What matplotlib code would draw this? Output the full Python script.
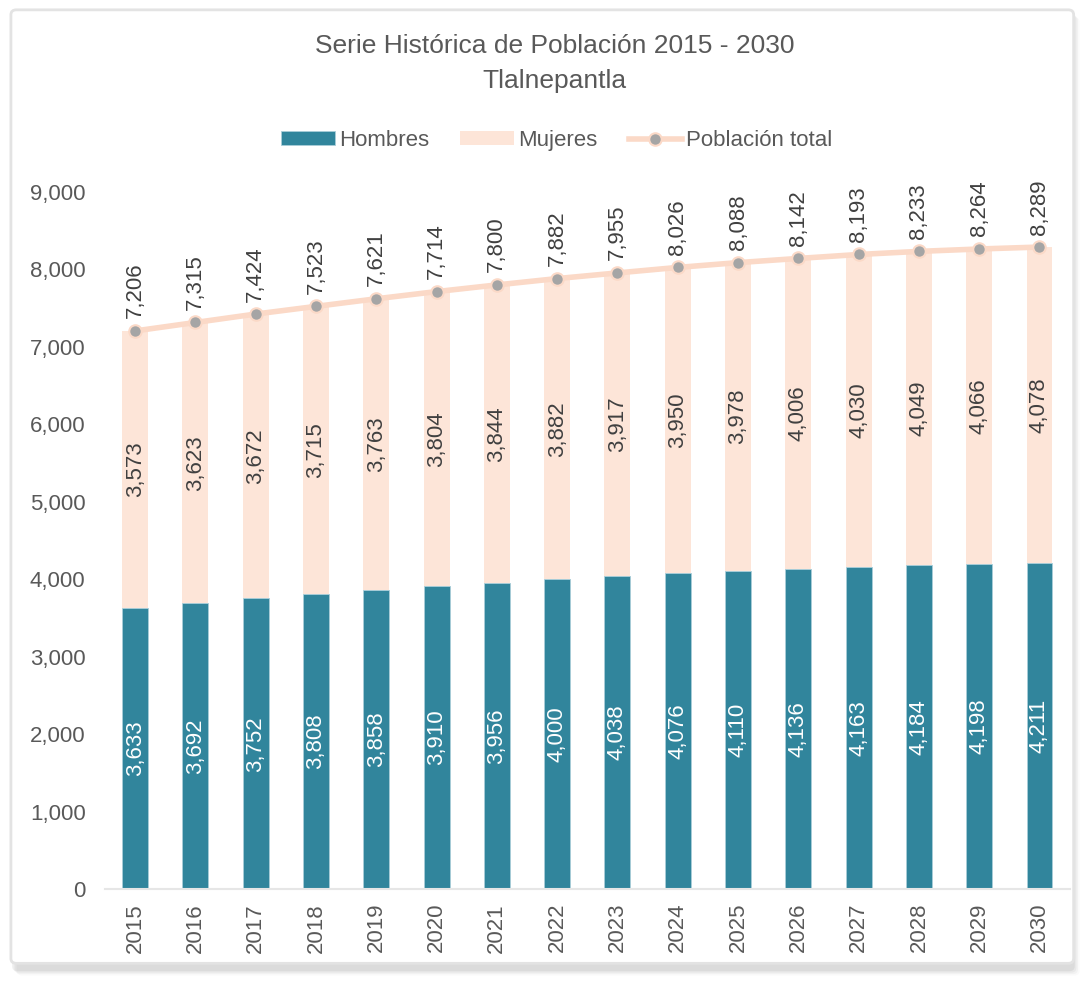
import numpy as np
import matplotlib
matplotlib.use("Agg")
import matplotlib.pyplot as plt
from matplotlib.patches import FancyBboxPatch
from matplotlib.ticker import FuncFormatter

# data
years = [str(y) for y in range(2015, 2031)]
hombres = [3633, 3692, 3752, 3808, 3858, 3910, 3956, 4000,
           4038, 4076, 4110, 4136, 4163, 4184, 4198, 4211]
mujeres = [3573, 3623, 3672, 3715, 3763, 3804, 3844, 3882,
           3917, 3950, 3978, 4006, 4030, 4049, 4066, 4078]
total = [7206, 7315, 7424, 7523, 7621, 7714, 7800, 7882,
         7955, 8026, 8088, 8142, 8193, 8233, 8264, 8289]

c_h = "#31859C"
c_m = "#FDE5D8"
c_line = "#FBD9C7"
c_text = "#595959"
c_lab = "#404040"

plt.rcParams['font.family'] = ['Liberation Sans', 'DejaVu Sans']

fig = plt.figure(figsize=(10.9, 9.83), dpi=100)

# frame with soft shadow
for i, a in enumerate([0.05, 0.04, 0.03, 0.02]):
    fig.patches.append(FancyBboxPatch((0.011 + 0.0015 * i, 0.012 - 0.0015 * i), 0.975, 0.975,
                                      boxstyle="round,pad=0,rounding_size=0.005",
                                      transform=fig.transFigure, facecolor="black",
                                      edgecolor="none", alpha=a, zorder=0))
fig.patches.append(FancyBboxPatch((0.010, 0.020), 0.975, 0.970,
                                  boxstyle="round,pad=0,rounding_size=0.005",
                                  transform=fig.transFigure, facecolor="white",
                                  edgecolor="#E3E3E3", linewidth=2, zorder=1))

ax = fig.add_axes([0.0963, 0.0956, 0.885, 0.7091])
ax.set_zorder(2)
ax.patch.set_alpha(0)

x = np.arange(len(years))
w = 0.43
bh = ax.bar(x, hombres, w, color=c_h, edgecolor="#A9CDD8", linewidth=0.6, label="Hombres")
bm = ax.bar(x, mujeres, w, bottom=hombres, color=c_m, edgecolor="none", label="Mujeres")
ln, = ax.plot(x, total, color=c_line, linewidth=4, marker="o", markersize=9,
              markerfacecolor="#A5A5A5", markeredgecolor=c_line, markeredgewidth=1.5,
              label="Población total", zorder=3)

for i in range(len(years)):
    ax.text(x[i], hombres[i] / 2, f"{hombres[i]:,}", rotation=90, ha="center",
            va="center", color="white", fontsize=16)
    ax.text(x[i], hombres[i] + mujeres[i] / 2, f"{mujeres[i]:,}", rotation=90,
            ha="center", va="center", color=c_lab, fontsize=16)
    ax.annotate(f"{total[i]:,}", (x[i], total[i]), xytext=(0, 9),
                textcoords="offset points", rotation=90, ha="center", va="bottom",
                color=c_lab, fontsize=16)

ax.set_xlim(-0.5, len(years) - 0.5)
ax.set_ylim(0, 9000)
ax.set_yticks(range(0, 9001, 1000))
ax.yaxis.set_major_formatter(FuncFormatter(lambda v, p: f"{int(v):,}"))
ax.set_xticks(x)
ax.set_xticklabels(years, rotation=90)
ax.tick_params(axis="both", length=0, labelsize=16, colors=c_text)
ax.tick_params(axis="y", pad=14)
ax.tick_params(axis="x", pad=10)
for s in ["top", "right", "left"]:
    ax.spines[s].set_visible(False)
ax.spines["bottom"].set_color("#E6E6E6")
ax.spines["bottom"].set_linewidth(1.5)

fig.text(0.509, 0.953, "Serie Histórica de Población 2015 - 2030", ha="center",
         va="center", fontsize=19, color=c_text)
fig.text(0.509, 0.918, "Tlalnepantla", ha="center", va="center", fontsize=19, color=c_text)

fig.legend([bh, bm, ln], ["Hombres", "Mujeres", "Población total"],
           loc="center", bbox_to_anchor=(0.511, 0.857), ncol=3, frameon=False,
           fontsize=16, labelcolor=c_text, handlelength=2.4, handleheight=0.6,
           handletextpad=0.2, columnspacing=1.4)

fig.savefig("out.png", dpi=100)
